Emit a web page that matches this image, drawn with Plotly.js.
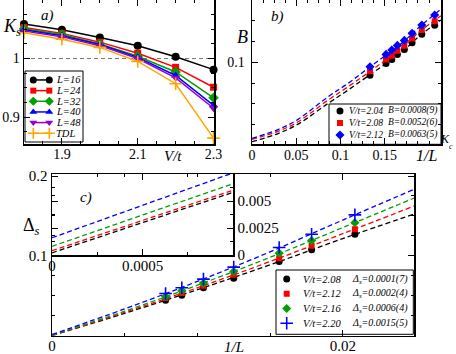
<!DOCTYPE html>
<html>
<head>
<meta charset="utf-8">
<script src="https://cdn.plot.ly/plotly-3.0.1.min.js"></script>
<style>html,body{margin:0;padding:0;background:#fff}#chart{width:456px;height:354px}</style>
</head>
<body>
<div id="chart"></div>
<script>
// ---- panel a) Ks vs V/t
const vt = [1.8, 1.9, 2.0, 2.1, 2.2, 2.3];
const ksL16 = [1.059, 1.049, 1.036, 1.022, 1.003, 0.981];
const ksL24 = [1.053, 1.043, 1.028, 1.009, 0.985, 0.951];
const ksL32 = [1.051, 1.041, 1.025, 1.004, 0.977, 0.933];
const ksL40 = [1.049, 1.039, 1.024, 1.002, 0.971, 0.920];
const ksL48 = [1.047, 1.037, 1.022, 1.000, 0.967, 0.915];
const ksTDL = [1.044, 1.033, 1.019, 0.995, 0.957, 0.864];
const ksNames = ['L=16', 'L=24', 'L=32', 'L=40', 'L=48', 'TDL'];

// ---- panel b) B vs 1/L^Kc
const bX = [0.1333, 0.1514, 0.1579, 0.1642, 0.1721, 0.1808, 0.1918, 0.2064];
const bV204 = [0.0844, 0.0988, 0.1036, 0.1096, 0.1156, 0.1236, 0.1337, 0.1445];
const bV208 = [0.0892, 0.1036, 0.1080, 0.1140, 0.1200, 0.1288, 0.1388, 0.1496];
const bV212 = [0.0947, 0.1096, 0.1148, 0.1204, 0.1264, 0.1349, 0.1448, 0.1569];
const bFitX = [0, 0.03, 0.052, 0.086, 0.1085, 0.131, 0.17, 0.19, 0.2135];
const bFit204 = [0.0046, 0.0147, 0.0258, 0.0507, 0.0667, 0.0835, 0.113, 0.1325, 0.151];
const bFit208 = [0.0075, 0.0174, 0.0286, 0.0547, 0.0707, 0.0875, 0.118, 0.1375, 0.156];
const bFit212 = [0.0087, 0.0195, 0.0315, 0.0587, 0.0748, 0.0928, 0.124, 0.1435, 0.164];
const bVt = ['V/t=2.04', 'V/t=2.08', 'V/t=2.12'];
const bB = ['B=0.0008(9)', 'B=0.0052(6)', 'B=0.0063(5)'];

// ---- panel c) Delta_s vs 1/L  (L = 128,112,96,80,64,56,48)
const invL = [0.0078125, 0.0089286, 0.0104167, 0.0125, 0.015625, 0.0178571, 0.0208333];
const dV208 = [0.0444, 0.0506, 0.0600, 0.0721, 0.0929, 0.1075, 0.1271];
const dV212 = [0.0471, 0.0534, 0.0625, 0.0763, 0.0971, 0.1125, 0.1334];
const dV216 = [0.0491, 0.0563, 0.0659, 0.0804, 0.1034, 0.1191, 0.1416];
const dV220 = [0.0528, 0.0600, 0.0709, 0.0859, 0.1104, 0.1271, 0.1513];
const dFitX = [0, 0.005, 0.01, 0.015, 0.02, 0.025];
const dFit208 = [0.0002, 0.0280, 0.0576, 0.0888, 0.1216, 0.153];
const dFit212 = [0.0003, 0.0292, 0.0600, 0.0929, 0.1277, 0.163];
const dFit216 = [0.0006, 0.0307, 0.0632, 0.0981, 0.1354, 0.173];
const dFit220 = [0.0015, 0.0336, 0.0680, 0.1050, 0.1448, 0.184];
// inset: fits near the origin
const insX = [0, 0.001];
const ins208 = [0.0002, 0.0058];
const ins212 = [0.0004, 0.0060];
const ins216 = [0.0008, 0.0066];
const ins220 = [0.0016, 0.0076];
const cVt = ['V/t=2.08', 'V/t=2.12', 'V/t=2.16', 'V/t=2.20'];
const cDs = ['0.0001(7)', '0.0002(4)', '0.0006(4)', '0.0015(5)'];

const W = 456, H = 354;
const px = x => x / W;       // pixel -> paper
const py = y => 1 - y / H;
const SERIF = '"Liberation Serif", "Times New Roman", Times, serif';
const f = (size, style) => {
  const o = {family: SERIF, size: size, color: '#000'};
  if (style) o.style = style;
  return o;
};

const GREEN = '#00a000', PURPLE = '#9400d3', ORANGE = '#ffa500';

function ax(domain, range, anchor, o) {
  const a = {
    domain: domain, range: range, anchor: anchor,
    showgrid: false, zeroline: false, showline: true, linecolor: '#000', linewidth: 1.5,
    mirror: 'ticks', ticks: 'inside', ticklen: 6, tickwidth: 1, tickcolor: '#000',
    tickfont: f(14),
    minor: Object.assign({ticks: 'inside', ticklen: 3, tickwidth: 1, tickcolor: '#000'}, o.minor || {})
  };
  delete o.minor;
  return Object.assign(a, o);
}
function hidden(domain, range) {
  return {domain: domain, range: range, visible: false, fixedrange: true};
}

const traces = [];

// panel a
const aSeries = [
  [ksL16, '#000', 'circle', 8],
  [ksL24, '#ff0000', 'square', 7],
  [ksL32, GREEN, 'diamond', 8],
  [ksL40, '#0000ff', 'triangle-up', 8],
  [ksL48, PURPLE, 'triangle-down', 8],
  [ksTDL, ORANGE, 'cross-thin', 9]
];
aSeries.forEach(([ys, c, sym, sz], i) => {
  const mk = {symbol: sym, size: sz, color: c, line: {color: c, width: sym === 'cross-thin' ? 1.6 : 0}};
  traces.push({x: vt, y: ys, xaxis: 'x', yaxis: 'y', mode: 'lines+markers',
    line: {color: c, width: 1.5}, marker: mk, cliponaxis: false});
  // legend sample
  traces.push({x: [0.143, 0.419], y: [i, i], xaxis: 'x5', yaxis: 'y5', mode: 'lines+markers',
    line: {color: c, width: 1.5}, marker: Object.assign({}, mk, {size: sz - 1})});
});

// panel b
const bSeries = [
  [bV204, bFit204, '#000', 'circle', 7],
  [bV208, bFit208, '#ff0000', 'square', 6],
  [bV212, bFit212, '#0000ff', 'diamond', 7]
];
bSeries.forEach(([ys, fit, c, sym, sz], i) => {
  traces.push({x: bFitX, y: fit, xaxis: 'x2', yaxis: 'y2', mode: 'lines',
    line: {color: c, width: 1.3, dash: '5px,3px', shape: 'spline'}});
  traces.push({x: bX, y: ys, xaxis: 'x2', yaxis: 'y2', mode: 'markers',
    marker: {symbol: sym, size: sz, color: c}});
  traces.push({x: [0.098], y: [i], xaxis: 'x6', yaxis: 'y6', mode: 'markers',
    marker: {symbol: sym, size: sz, color: c}});
});

// panel c
const cSeries = [
  [dV208, dFit208, ins208, '#000', 'circle', 7],
  [dV212, dFit212, ins212, '#ff0000', 'square', 6],
  [dV216, dFit216, ins216, GREEN, 'diamond', 7],
  [dV220, dFit220, ins220, '#0000ff', 'cross-thin', 9]
];
cSeries.forEach(([ys, fit, ins, c, sym, sz], i) => {
  const mk = {symbol: sym, size: sz, color: c, line: {color: c, width: sym === 'cross-thin' ? 1.6 : 0}};
  traces.push({x: dFitX, y: fit, xaxis: 'x3', yaxis: 'y3', mode: 'lines',
    line: {color: c, width: 1.3, dash: '5px,3px', shape: 'spline'}});
  traces.push({x: invL, y: ys, xaxis: 'x3', yaxis: 'y3', mode: 'markers', marker: mk});
  traces.push({x: insX, y: ins, xaxis: 'x4', yaxis: 'y4', mode: 'lines',
    line: {color: c, width: 1.3, dash: '5px,3px'}});
  traces.push({x: [0.078], y: [i], xaxis: 'x7', yaxis: 'y7', mode: 'markers', marker: mk});
});

const ann = [];
const label = (x, y, text, size, style, extra) => ann.push(Object.assign({
  xref: 'paper', yref: 'paper', x: px(x), y: py(y), text: text, showarrow: false,
  font: f(size, style), xanchor: 'center', yanchor: 'middle'}, extra || {}));

label(47, 15, 'a)', 15, 'italic');
label(12, 27, 'K<sub>s</sub>', 18, 'italic');
label(173, 156, 'V/t', 15, 'italic');
label(277, 16, 'b)', 15, 'italic');
label(242, 37, 'B', 18, 'italic');
label(426, 156, '1/L', 16, 'italic');
label(445, 139, 'K', 12, 'italic');
label(451, 146, 'c', 8, 'italic');
label(86, 197, 'c)', 15, 'italic');
label(31, 226, 'Δ<sub><i>s</i></sub>', 18);
label(234, 347, '1/L', 15, 'italic');

ksNames.forEach((t, i) => ann.push({xref: 'x5', yref: 'y5', x: 0.5, y: i, text: t, showarrow: false,
  xanchor: 'left', yanchor: 'middle', font: f(10.5, 'italic')}));
bVt.forEach((t, i) => {
  ann.push({xref: 'x6', yref: 'y6', x: 0.16, y: i, text: t, showarrow: false,
    xanchor: 'left', yanchor: 'middle', font: f(9.5, 'italic')});
  ann.push({xref: 'x6', yref: 'y6', x: 0.51, y: i, text: bB[i], showarrow: false,
    xanchor: 'left', yanchor: 'middle', font: f(9.5, 'italic')});
});
cVt.forEach((t, i) => {
  ann.push({xref: 'x7', yref: 'y7', x: 0.18, y: i, text: t, showarrow: false,
    xanchor: 'left', yanchor: 'middle', font: f(10.5, 'italic')});
  ann.push({xref: 'x7', yref: 'y7', x: 0.54, y: i, text: 'Δ<sub>s</sub>=' + cDs[i], showarrow: false,
    xanchor: 'left', yanchor: 'middle', font: f(10, 'italic')});
});

const box = (x0, y0, x1, y1) => ({type: 'rect', xref: 'paper', yref: 'paper', layer: 'below',
  x0: px(x0), x1: px(x1), y0: py(y1), y1: py(y0), line: {color: '#000', width: 1}, fillcolor: '#fff'});

const layout = {
  width: W, height: H, margin: {l: 0, r: 0, t: 0, b: 0},
  paper_bgcolor: '#fff', plot_bgcolor: 'rgba(0,0,0,0)', showlegend: false,
  xaxis: ax([px(24), px(214.3)], [1.8, 2.302], 'y', {tick0: 1.9, dtick: 0.2, ticklabelstandoff: -3,
    minor: {dtick: 0.05}}),
  yaxis: ax([py(144), 1], [0.854, 1.1], 'x', {tick0: 0.9, dtick: 0.1, minor: {dtick: 0.025}}),
  xaxis2: ax([px(252), px(441)], [0, 0.2135], 'y2', {tickmode: 'array', tickvals: [0, 0.05, 0.1, 0.15],
    ticktext: ['0', '0.05', '0.1', '0.15'], ticklabelstandoff: -3,
    minor: {tickmode: 'linear', tick0: 0, dtick: 0.0125}}),
  yaxis2: ax([py(144.3), 1], [0.0015, 0.175], 'x2', {tickmode: 'array', tickvals: [0.1], ticktext: ['0.1'],
    ticklabelstandoff: 3, minor: {tickmode: 'linear', tick0: 0, dtick: 0.025}}),
  xaxis3: ax([px(52), px(414)], [0, 0.0249], 'y3', {tickmode: 'array', tickvals: [0, 0.02], ticktext: ['0', '0.02'],
    tickfont: f(15), ticklabelstandoff: -4, minor: {tickmode: 'linear', tick0: 0, dtick: 0.005}}),
  yaxis3: ax([py(335.7), py(174)], [0, 0.2025], 'x3', {tickmode: 'array', tickvals: [0.1, 0.2], ticktext: ['0.1', '0.2'],
    tickfont: f(15), minor: {tickmode: 'array', tickvals: [0.025, 0.05, 0.075, 0.125, 0.15, 0.175]}}),
  xaxis4: ax([px(52), px(233)], [0, 0.001], 'y4', {tickmode: 'array', tickvals: [0, 0.0005], ticktext: ['0', '0.0005'],
    tickfont: f(15), ticklabelstandoff: -4, minor: {tickmode: 'linear', tick0: 0, dtick: 0.00025}}),
  yaxis4: ax([py(255), py(174)], [0, 0.0075], 'x4', {side: 'right', tickmode: 'array', tickvals: [0, 0.0025, 0.005],
    ticktext: ['0', '0.0025', '0.005'], tickfont: f(15), minor: {tickmode: 'linear', tick0: 0, dtick: 0.00125}}),
  xaxis5: hidden([px(25), px(83)], [0, 1]),
  yaxis5: hidden([py(142), py(71)], [5.82, -0.84]),
  xaxis6: hidden([px(329), px(441)], [0, 1]),
  yaxis6: hidden([py(144.3), py(104)], [2.78, -0.58]),
  xaxis7: hidden([px(276), px(413.3)], [0, 1]),
  yaxis7: hidden([py(334.3), py(270)], [3.75, -0.61]),
  shapes: [
    {type: 'line', xref: 'x domain', yref: 'y', x0: 0, x1: 1, y0: 1, y1: 1,
      line: {color: '#777', width: 1, dash: '4px,3px'}, layer: 'below'},
    box(25, 71, 83, 142),
    box(329, 104, 441, 144.3),
    box(276, 270, 413.3, 334.3)
  ],
  annotations: ann
};

Plotly.newPlot('chart', traces, layout, {staticPlot: true, displayModeBar: false});
</script>
</body>
</html>
